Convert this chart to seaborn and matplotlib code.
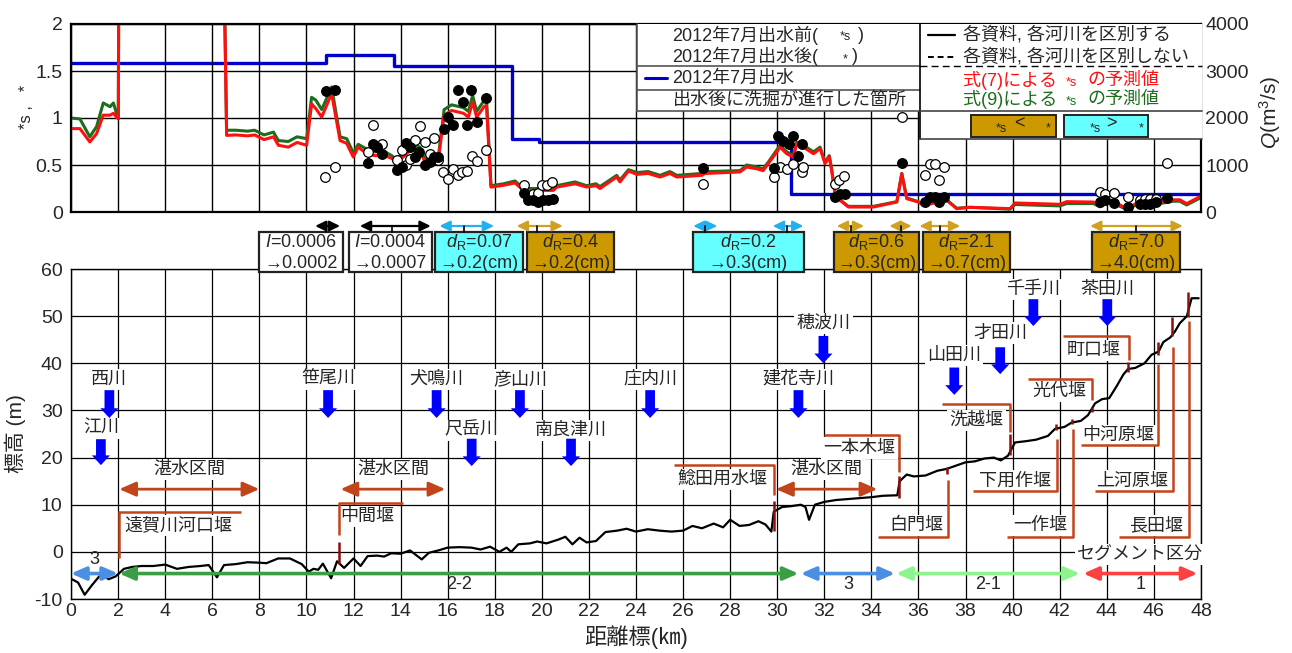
import matplotlib
matplotlib.use("Agg")
import matplotlib.pyplot as plt
import matplotlib.transforms as mtransforms
from matplotlib.patches import Rectangle, FancyArrowPatch
from matplotlib.lines import Line2D
import seaborn as sns

sns.set_style("white")
plt.rcParams["font.family"] = ["Liberation Sans", "Noto Sans CJK JP", "DejaVu Sans"]
plt.rcParams["mathtext.fontset"] = "custom"
plt.rcParams["mathtext.rm"] = "Liberation Sans"
plt.rcParams["mathtext.it"] = "Liberation Sans:italic"
plt.rcParams["axes.unicode_minus"] = False

# ---------------------------------------------------------------- data
dist_ticks = list(range(0, 49, 2))
tau_ticks = [0, 0.5, 1, 1.5, 2]
tau_ticklabels = ["0", "0.5", "1", "1.5", "2"]
q_ticks = [0, 1000, 2000, 3000, 4000]
elev_ticks = [-10, 0, 10, 20, 30, 40, 50, 60]

# longitudinal bed profile (distance km, elevation m)
bed_km = [0, 0.3, 0.58, 0.9, 1.2, 1.35, 1.6, 1.9, 2.25, 2.6, 3.0, 3.5, 4.0, 4.5, 5.0,
          5.5, 5.85, 6.2, 6.5, 7.0, 7.5, 8.0, 8.3, 8.8, 9.3, 9.8, 10.1, 10.3, 10.5, 10.7,
          11.05, 11.3, 11.6, 12.0, 12.3, 12.6, 13.0, 13.3, 13.6, 14.0, 14.4, 14.9, 15.2,
          15.6, 16.0, 16.5, 17.0, 17.4, 17.8, 18.2, 18.5, 18.7, 19.0, 19.5, 19.8, 20.2,
          20.7, 21.0, 21.3, 21.6, 21.9, 22.3, 22.7, 23.2, 23.6, 24.0, 24.5, 25.0, 25.5,
          26.0, 26.4, 26.8, 27.3, 27.7, 28.0, 28.4, 28.8, 29.2, 29.5, 29.75, 29.85, 30.2,
          30.6, 31.0, 31.2, 31.35, 31.6, 32.0, 32.5, 33.0, 33.5, 34.0, 34.5, 35.1, 35.2,
          35.5, 35.8, 36.3, 36.8, 37.2, 37.6, 38.0, 38.4, 38.8, 39.2, 39.5, 39.8, 40.1,
          40.6, 41.0, 41.5, 41.8, 42.2, 42.5, 42.9, 43.2, 43.5, 43.8, 44.1, 44.4, 44.7,
          44.9, 45.2, 45.6, 45.9, 46.2, 46.4, 46.7, 46.9, 47.1, 47.4, 47.6, 47.9]
bed_elev = [-5.7, -6.5, -9.1, -7.0, -5.2, -5.0, -5.8, -5.2, -3.6, -3.2, -3.0, -3.0, -2.7,
            -3.6, -3.2, -3.0, -2.8, -5.4, -2.8, -2.6, -2.2, -2.3, -2.4, -1.4, -1.4, -2.6,
            -4.2, -3.6, -3.8, -2.5, -5.6, -2.0, -3.4, -1.4, -3.0, -0.9, -0.8, -1.0, -0.3,
            -0.4, 0.3, -1.6, -0.2, 0.3, 0.9, 1.0, 0.9, 0.5, 1.1, 0.0, 0.9, 0.0, 1.6, 1.8,
            2.2, 1.8, 2.6, 3.2, 1.6, 3.0, 2.0, 2.3, 4.2, 4.5, 4.9, 4.3, 4.8, 4.5, 4.3, 4.5,
            5.5, 5.0, 6.0, 5.2, 6.8, 5.5, 5.7, 6.5, 5.8, 4.3, 8.5, 9.5, 9.7, 10.0, 9.5,
            6.8, 10.0, 10.6, 11.0, 11.2, 11.4, 11.6, 11.9, 12.0, 15.0, 16.4, 16.0, 16.2,
            17.2, 17.6, 18.3, 19.0, 19.2, 19.8, 20.0, 19.4, 20.4, 23.2, 23.5, 23.8, 24.6,
            26.1, 26.5, 27.4, 27.8, 29.0, 31.5, 32.4, 32.6, 35.0, 37.6, 38.8, 39.0, 40.0,
            41.8, 42.5, 44.5, 45.5, 46.8, 48.5, 50.0, 53.8, 53.8]

# predicted dimensionless shear stress along the river
pred_km = [0, 0.38, 0.8, 1.09, 1.37, 1.66, 1.8, 2.01, 2.03, 6.5, 6.61, 7.0, 7.5, 7.8,
           8.2, 8.6, 8.81, 9.23, 9.6, 10.01, 10.22, 10.4, 10.65, 11.07, 11.43, 11.71,
           11.99, 12.2, 12.56, 12.91, 13.34, 13.62, 13.83, 14.11, 14.54, 14.82, 15.04,
           15.4, 15.6, 15.85, 16.17, 16.67, 16.88, 17.06, 17.23, 17.56, 17.65, 17.84,
           18.37, 18.86, 19.22, 20.49, 20.63, 21.41, 21.9, 22.3, 22.47, 23.18, 23.32,
           23.68, 24.04, 24.52, 25.02, 25.44, 25.73, 26.79, 26.93, 28.42, 28.7, 29.12,
           29.4, 29.62, 29.98, 30.12, 30.4, 30.68, 30.83, 31.11, 31.54, 31.82, 32.03,
           32.21, 32.31, 32.45, 32.67, 33.02, 34.08, 35.08, 35.29, 35.5, 35.99, 36.2,
           37.2, 37.62, 38.19, 39.89, 40.1, 42.0, 42.3, 43.43, 43.7, 44.07, 44.4, 44.85,
           45.28, 45.85, 46.26, 46.83, 47.1, 47.39, 47.93]
pred_eq7 = [0.887, 0.887, 0.745, 0.834, 1.03, 1.03, 1.05, 0.99, 2.6, 2.6, 0.815, 0.82,
            0.81, 0.82, 0.77, 0.80, 0.71, 0.69, 0.74, 0.71, 1.15, 1.10, 1.01, 1.26, 0.76,
            0.73, 0.585, 0.69, 0.62, 0.60, 0.60, 0.57, 0.53, 0.585, 0.69, 0.655, 0.53,
            0.585, 0.55, 1.03, 1.08, 1.05, 1.01, 1.17, 1.01, 1.125, 1.13, 0.265, 0.284,
            0.31, 0.23, 0.23, 0.265, 0.30, 0.266, 0.28, 0.25, 0.372, 0.32, 0.436, 0.40,
            0.41, 0.372, 0.41, 0.372, 0.39, 0.41, 0.426, 0.479, 0.46, 0.44, 0.515, 0.638,
            0.69, 0.62, 0.585, 0.727, 0.69, 0.62, 0.675, 0.515, 0.585, 0.443, 0.196, 0.124,
            0.053, 0.053, 0.106, 0.408, 0.142, 0.106, 0.07, 0.124, 0.036, 0.05, 0.036,
            0.096, 0.082, 0.11, 0.106, 0.07, 0.124, 0.096, 0.036, 0.096, 0.096, 0.106,
            0.13, 0.13, 0.089, 0.16]
pred_eq9 = [1.00, 0.99, 0.80, 0.91, 1.16, 1.12, 1.16, 0.99, 2.6, 2.6, 0.87, 0.87, 0.86,
            0.87, 0.82, 0.85, 0.76, 0.75, 0.80, 0.78, 1.22, 1.19, 1.09, 1.33, 0.80, 0.78,
            0.63, 0.72, 0.67, 0.64, 0.64, 0.60, 0.56, 0.62, 0.72, 0.69, 0.56, 0.62, 0.58,
            1.09, 1.14, 1.11, 1.07, 1.24, 1.07, 1.19, 1.20, 0.28, 0.30, 0.33, 0.25, 0.25,
            0.28, 0.32, 0.28, 0.30, 0.27, 0.39, 0.34, 0.45, 0.42, 0.43, 0.39, 0.43, 0.39,
            0.41, 0.43, 0.44, 0.50, 0.48, 0.46, 0.53, 0.66, 0.71, 0.64, 0.60, 0.74, 0.71,
            0.64, 0.69, 0.53, 0.60, 0.46, 0.21, 0.13, 0.06, 0.06, 0.11, 0.41, 0.15, 0.11,
            0.08, 0.13, 0.04, 0.05, 0.03, 0.08, 0.065, 0.09, 0.09, 0.055, 0.105, 0.08,
            0.025, 0.08, 0.08, 0.09, 0.115, 0.115, 0.075, 0.145]

# observed values, before the July 2012 flood
before_km = [10.81, 11.21, 12.63, 12.84, 13.2, 13.83, 14.05, 14.21, 14.4, 14.61, 14.83,
             15.04, 15.25, 15.42, 15.6, 15.81, 16.03, 16.24, 16.42, 16.63, 16.8, 17.02,
             17.23, 17.63, 19.24, 19.64, 19.85, 20.02, 20.2, 20.42, 26.83, 29.86, 30.12,
             30.4, 30.68, 31.04, 31.11, 32.45, 32.64, 32.84, 35.29, 36.28, 36.49, 36.7,
             36.88, 37.08, 43.71, 43.93, 44.31, 44.89, 45.42, 45.63, 45.85, 46.1, 46.55]
before_tau = [0.375, 0.479, 0.638, 0.922, 0.727, 0.55, 0.656, 0.5, 0.56, 0.763, 0.911,
              0.745, 0.62, 0.79, 0.55, 0.426, 0.355, 0.46, 0.39, 0.426, 0.44, 0.60, 0.546,
              0.66, 0.284, 0.195, 0.2, 0.284, 0.284, 0.32, 0.30, 0.372, 0.479, 0.46, 0.515,
              0.426, 0.479, 0.30, 0.337, 0.38, 1.01, 0.39, 0.515, 0.515, 0.337, 0.479,
              0.213, 0.195, 0.2, 0.16, 0.13, 0.14, 0.14, 0.14, 0.521]
# observed values, after the July 2012 flood
after_km = [10.83, 11.21, 12.63, 12.84, 13.0, 13.2, 13.83, 14.05, 14.23, 14.4, 14.61,
            14.8, 15.04, 15.23, 15.42, 15.6, 15.85, 16.03, 16.24, 16.43, 16.64, 16.84,
            17.0, 17.23, 17.63, 19.24, 19.43, 19.64, 19.85, 20.05, 20.26, 20.47, 26.83,
            29.86, 30.05, 30.26, 30.48, 30.66, 30.87, 31.07, 32.45, 32.67, 32.88, 35.29,
            36.28, 36.49, 36.7, 36.88, 37.08, 43.71, 43.93, 44.31, 44.89, 45.42, 45.63,
            45.85, 46.1, 46.55]
after_tau = [1.287, 1.295, 0.525, 0.72, 0.69, 0.62, 0.45, 0.48, 0.734, 0.69, 0.585, 0.638,
             0.497, 0.53, 0.59, 0.585, 0.887, 1.01, 0.922, 1.30, 1.17, 0.93, 1.30, 0.957,
             1.216, 0.2, 0.124, 0.124, 0.11, 0.124, 0.124, 0.135, 0.472, 0.472, 0.805,
             0.76, 0.727, 0.805, 0.60, 0.72, 0.16, 0.195, 0.19, 0.521, 0.11, 0.16, 0.16,
             0.11, 0.16, 0.106, 0.124, 0.096, 0.053, 0.082, 0.082, 0.082, 0.106, 0.152]

# peak discharge of the July 2012 flood (step changes along the river)
flow_km = [0, 10.83, 13.73, 18.75, 19.9, 30.57, 47.9]
flow_q = [3160, 3350, 3110, 1547, 1497, 391, 391]

# tributary confluences
trib_names = ["西川", "江川", "笹尾川", "犬鳴川", "尺岳川", "彦山川", "南良津川", "庄内川",
              "建花寺川", "穂波川", "山田川", "才田川", "千手川", "茶田川"]
trib_km = [1.63, 1.27, 10.92, 15.53, 17.02, 19.07, 21.24, 24.6, 30.9, 31.96, 37.52,
           39.47, 40.88, 44.02]

# weirs: location, and height of the structure on the bed
weir_names = ["遠賀川河口堰", "中間堰", "鯰田用水堰", "一本木堰", "白門堰", "洗越堰", "下用作堰",
              "一作堰", "光代堰", "町口堰", "中河原堰", "上河原堰", "長田堰"]
weir_km = [2.05, 11.38, 29.85, 35.17, 37.2, 39.9, 41.85, 42.5, 43.39, 44.92, 46.18,
           46.75, 47.45]
weir_base = [None, -2.5, 4.5, 11.5, 16.6, 20.5, 25.8, 27.1, 29.7, 38.2, 41.8, 45.7, 49.9]
weir_crest = [None, 2.0, 10.8, 16.0, 18.0, 25.1, 27.2, 28.1, 30.8, 40.3, 44.6, 49.9, 55.2]

# backwater (湛水) reaches
pond_from = [2.05, 11.45, 29.95]
pond_to = [8.0, 15.9, 34.25]

# river segment classification
seg_names = ["3", "2-2", "3", "2-1", "1"]
seg_from = [0.0, 2.05, 31.0, 35.05, 43.0]
seg_to = [2.0, 30.9, 35.0, 42.85, 47.85]

# parameter changes after the flood (slope I, representative grain size dR)
change_before = [r"$\it{I}$=0.0006", r"$\it{I}$=0.0004", r"$\it{d}_{\rm R}$=0.07",
                 r"$\it{d}_{\rm R}$=0.4", r"$\it{d}_{\rm R}$=0.2", r"$\it{d}_{\rm R}$=0.6",
                 r"$\it{d}_{\rm R}$=2.1", r"$\it{d}_{\rm R}$=7.0"]
change_after = ["→0.0002", "→0.0007", "→0.2(cm)", "→0.2(cm)", "→0.3(cm)", "→0.3(cm)",
                "→0.7(cm)", "→4.0(cm)"]
change_kind = ["slope", "slope", "more", "less", "more", "less", "less", "less"]
change_from = [10.37, 12.27, 15.65, 18.93, 26.43, 32.53, 36.04, 43.29]
change_to = [11.43, 15.28, 17.97, 20.89, 27.45, 33.69, 37.77, 47.23]
extra_from = [None, None, None, None, 29.81, 34.76, None, None]
extra_to = [None, None, None, None, 31.11, 35.71, None, None]

# ---------------------------------------------------------------- styles
RED = "#FF1010"
GREEN = "#1C6E1C"
BLUE = "#0000CD"
WEIR = "#C1441A"
WEIR_DARK = "#8B0F0F"
BROWN_BOX = "#CC9900"
CYAN_BOX = "#66FFFF"
BROWN_ARR = "#D0A020"
CYAN_ARR = "#22B0EE"
SEG_COLORS = ["#4A90E2", "#3A9E45", "#4A90E2", "#8CF58C", "#FF4040"]
KIND_FACE = {"slope": "white", "more": CYAN_BOX, "less": BROWN_BOX}
KIND_ARROW = {"slope": "black", "more": CYAN_ARR, "less": BROWN_ARR}

W, H = 1292, 653


def fx(px):
    return px / W


def fy(py):
    return 1 - py / H


fig = plt.figure(figsize=(W / 100, H / 100), dpi=100)
fig.patch.set_facecolor("white")

ax_top = fig.add_axes([fx(71), fy(212), fx(1201) - fx(71), fy(24) - fy(212)])
ax_q = ax_top.twinx()
ax_bot = fig.add_axes([fx(71), fy(599), fx(1201) - fx(71), fy(269) - fy(599)])

ax_top.set_zorder(2)
ax_top.patch.set_visible(False)
ax_q.set_zorder(1)

# ---------------------------------------------------------------- upper panel
sns.lineplot(x=flow_km, y=flow_q, ax=ax_q, color=BLUE, lw=2.4, drawstyle="steps-post",
             estimator=None, sort=False, legend=False)
sns.lineplot(x=pred_km, y=pred_eq9, ax=ax_top, color=GREEN, lw=2.2, estimator=None,
             sort=False, legend=False)
sns.lineplot(x=pred_km, y=pred_eq7, ax=ax_top, color=RED, lw=2.2, estimator=None,
             sort=False, legend=False)
sns.scatterplot(x=before_km, y=before_tau, ax=ax_top, s=48, facecolor="white",
                edgecolor="black", linewidth=0.9, zorder=4, legend=False)
sns.scatterplot(x=after_km, y=after_tau, ax=ax_top, s=48, color="black",
                edgecolor="black", linewidth=0.9, zorder=5, legend=False)

ax_top.set_xlim(0, 48)
ax_top.set_ylim(0, 2)
ax_top.set_xticks(dist_ticks)
ax_top.set_yticks(tau_ticks)
ax_top.set_yticklabels(tau_ticklabels)
ax_top.tick_params(axis="both", length=0, labelsize=14, pad=6, labelbottom=False)
ax_top.grid(True, color="black", lw=1.0)
ax_top.set_xlabel("")
ax_top.set_ylabel("")
for sp in ax_top.spines.values():
    sp.set_color("black")
    sp.set_linewidth(1.6)

ax_q.set_ylim(0, 4000)
ax_q.set_yticks(q_ticks)
ax_q.tick_params(axis="y", length=0, labelsize=14, pad=3)
ax_q.grid(False)
ax_q.set_ylabel("")
for sp in ax_q.spines.values():
    sp.set_visible(False)

fig.text(fx(27), fy(107), "*s ,   *", rotation=90, ha="center", va="center", fontsize=12)
fig.text(fx(1270), fy(112), r"$\it{Q}$(m$^3$/s)", rotation=90, ha="center", va="center",
         fontsize=15)


def fig_line(xs, ys, **kw):
    fig.add_artist(Line2D([fx(v) for v in xs], [fy(v) for v in ys],
                          transform=fig.transFigure, zorder=6, **kw))


def fig_rect(x0, y0, x1, y1, **kw):
    fig.add_artist(Rectangle((fx(x0), fy(y1)), fx(x1) - fx(x0), fy(y0) - fy(y1),
                             transform=fig.transFigure, **kw))


def fig_text(x, y, s, **kw):
    kw.setdefault("va", "center")
    kw.setdefault("fontsize", 13)
    fig.text(fx(x), fy(y), s, zorder=7, **kw)


# legend block (left part)
fig_rect(637, 24, 920, 111, facecolor="white", edgecolor="none", zorder=5)
fig_line([637, 637], [24, 111], color="#555555", lw=1.2)
fig_line([637, 920], [66.3, 66.3], color="#555555", lw=1.2)
fig_line([637, 920], [90, 90], color="#555555", lw=1.2)
fig_line([637, 920], [111, 111], color="#555555", lw=1.2)
fig_text(672, 35, "2012年7月出水前(")
fig_text(845, 37, "*s", fontsize=9, ha="center")
fig_text(858, 35, ")")
fig_text(672, 56.7, "2012年7月出水後(")
fig_text(845, 59, "*", fontsize=9, ha="center")
fig_text(852, 56.7, ")")
fig_line([645, 667], [78, 78], color=BLUE, lw=2.2)
fig_text(672, 78, "2012年7月出水")
fig_text(673, 100, "出水後に洗掘が進行した箇所")

# legend block (right part)
fig_rect(920, 24, 1202, 139, facecolor="white", edgecolor="none", zorder=5)
fig_line([920, 920], [24, 139], color="black", lw=1.2)
fig_line([920, 1202], [66.3, 66.3], color="black", lw=1.0, ls=(0, (5, 3)))
fig_line([920, 1202], [111, 111], color="#444444", lw=1.2)
fig_line([920, 1202], [139, 139], color="#444444", lw=1.2)
fig_line([928, 955], [35, 35], color="black", lw=1.6)
fig_text(963, 35, "各資料, 各河川を区別する")
fig_line([928, 955], [56.7, 56.7], color="black", lw=1.4, ls=(0, (3, 2)))
fig_text(963, 56.7, "各資料, 各河川を区別しない")
fig_text(963, 80, "式(7)による", color=RED)
fig_text(1071, 83, "*s", fontsize=9, ha="center", color=RED)
fig_text(1087, 80, "の予測値", color=RED)
fig_text(963, 99.3, "式(9)による", color=GREEN)
fig_text(1071, 102, "*s", fontsize=9, ha="center", color=GREEN)
fig_text(1087, 99.3, "の予測値", color=GREEN)
fig_rect(971, 115, 1056, 137, facecolor=BROWN_BOX, edgecolor="#222222", lw=1.4, zorder=6)
fig_text(1001, 129, "*s", fontsize=9, ha="center")
fig_text(1019, 124, "<", ha="center")
fig_text(1048, 128, "*", fontsize=9, ha="center")
fig_rect(1064, 115, 1148, 137, facecolor=CYAN_BOX, edgecolor="#222222", lw=1.4, zorder=6)
fig_text(1095, 129, "*s", fontsize=9, ha="center")
fig_text(1111, 124, ">", ha="center")
fig_text(1141, 128, "*", fontsize=9, ha="center")

# ---------------------------------------------------------------- band between panels
band = mtransforms.blended_transform_factory(ax_bot.transData, fig.transFigure)
ARROW_Y, BOX_TOP, BOX_BOT = fy(226), fy(232), fy(272)
box_left = [8.0, 11.81, 15.46, 19.38, 26.41, 32.39, 36.18, 43.36]
box_right = [11.54, 15.32, 19.19, 23.07, 31.14, 36.04, 39.89, 47.1]
tick_at = [10.83, 13.62, 16.7, 19.78, 26.95, 33.12, 36.9, 45.23]
extra_tick = [None, None, None, None, 30.4, 35.25, None, None]


def band_arrow(x0, x1, color, tick):
    fig.add_artist(FancyArrowPatch(
        (x0, ARROW_Y), (x1, ARROW_Y), transform=band,
        arrowstyle="<|-|>,head_length=0.45,head_width=0.22", mutation_scale=14,
        color=color, lw=1.6, shrinkA=0, shrinkB=0, zorder=6))
    fig.add_artist(Line2D([tick, tick], [ARROW_Y, BOX_TOP], transform=band,
                          color="black", lw=1.2, zorder=6))


for i, kind in enumerate(change_kind):
    fig.add_artist(Rectangle((box_left[i], BOX_BOT), box_right[i] - box_left[i],
                             BOX_TOP - BOX_BOT, transform=band, facecolor=KIND_FACE[kind],
                             edgecolor="#222222", lw=1.6, zorder=6))
    xc = (box_left[i] + box_right[i]) / 2
    fig.text(xc, fy(242), change_before[i], transform=band, ha="center", va="center",
             fontsize=13, zorder=7)
    fig.text(xc, fy(263.5), change_after[i], transform=band, ha="center", va="center",
             fontsize=13, zorder=7)
    band_arrow(change_from[i], change_to[i], KIND_ARROW[kind], tick_at[i])
    if extra_from[i] is not None:
        band_arrow(extra_from[i], extra_to[i], KIND_ARROW[kind], extra_tick[i])

# ---------------------------------------------------------------- lower panel
sns.lineplot(x=bed_km, y=bed_elev, ax=ax_bot, color="black", lw=1.6, estimator=None,
             sort=False, legend=False, zorder=4)
ax_bot.set_xlim(0, 48)
ax_bot.set_ylim(-10, 60)
ax_bot.set_xticks(dist_ticks)
ax_bot.set_xticklabels([str(v) for v in dist_ticks])
ax_bot.set_yticks(elev_ticks)
ax_bot.tick_params(axis="both", length=0, labelsize=14)
ax_bot.tick_params(axis="y", pad=6)
ax_bot.tick_params(axis="x", pad=3)
ax_bot.grid(True, color="black", lw=0.9)
for sp in ax_bot.spines.values():
    sp.set_color("black")
    sp.set_linewidth(1.0)
ax_bot.set_xlabel("距離標(㎞)", fontsize=16, labelpad=4)
ax_bot.set_ylabel("標高 (m)", fontsize=15, labelpad=6)

label_bg = dict(facecolor="white", edgecolor="none", pad=1.5)

# tributary arrows
trib_label_y = [36.6, 26.2, 36.6, 36.6, 25.8, 36.6, 25.8, 36.6, 36.6, 48.5, 41.6, 46.4,
                55.7, 55.7]
trib_arrow_top = [34.3, 23.9, 34.3, 34.3, 24.0, 34.3, 24.0, 34.3, 34.3, 45.8, 39.1,
                  43.4, 53.6, 53.6]
trib_arrow_tip = [28.4, 18.4, 28.4, 28.4, 18.2, 28.4, 18.2, 28.4, 28.4, 40.0, 33.3,
                  37.7, 47.9, 47.9]
for name, km, ly, y0, y1 in zip(trib_names, trib_km, trib_label_y, trib_arrow_top,
                                trib_arrow_tip):
    ax_bot.text(km, ly, name, ha="center", va="center", fontsize=13, bbox=label_bg,
                zorder=3)
    ax_bot.annotate("", xy=(km, y1), xytext=(km, y0),
                    arrowprops=dict(arrowstyle="simple,head_length=7,head_width=13,tail_width=7",
                                    mutation_scale=1, color="#0000FF", shrinkA=0,
                                    shrinkB=0, lw=0), zorder=5)

# weir leader lines: (vertical start y, horizontal far end x, vertical end y)
weir_lead_y = [8.4, 10.3, 18.4, 24.7, 3.25, 31.3, 12.9, 3.25, 36.7, 45.7, 22.6, 13.0, 3.25]
weir_lead_far = [7.2, 14.1, 25.6, 32.0, 34.3, 37.0, 38.33, 39.75, 40.67, 42.13, 42.9,
                 43.5, 44.5]
weir_lead_end = [-1.2, 3.5, 12.0, 17.0, 15.2, 25.5, 24.0, 26.0, 32.2, 40.7, 39.85, 43.5,
                 48.9]
weir_label_x = [4.55, 12.6, 27.65, 33.5, 35.9, 38.47, 40.1, 41.16, 42.0, 43.43, 44.49,
                45.06, 46.1]
weir_label_y = [5.6, 7.5, 15.4, 22.0, 5.6, 27.9, 15.0, 5.6, 34.0, 42.7, 24.7, 15.0, 5.6]
weir_lead_x = [2.05, 11.38, 29.85, 35.17, 37.24, 39.9, 41.87, 42.55, 43.39, 44.93, 46.19,
               46.79, 47.5]
for i, name in enumerate(weir_names):
    xv = weir_lead_x[i]
    ax_bot.plot([weir_lead_far[i], xv, xv], [weir_lead_y[i], weir_lead_y[i],
                                             weir_lead_end[i]],
                color=WEIR, lw=1.8, zorder=6, solid_capstyle="butt")
    ax_bot.text(weir_label_x[i], weir_label_y[i], name, ha="center", va="center",
                fontsize=13, bbox=label_bg, zorder=3)
    if weir_base[i] is not None:
        ax_bot.plot([weir_km[i], weir_km[i]], [weir_base[i], weir_crest[i]],
                    color=WEIR_DARK, lw=1.8, zorder=6, solid_capstyle="butt")

# backwater reaches
for x0, x1 in zip(pond_from, pond_to):
    ax_bot.annotate("", xy=(x1, 13.3), xytext=(x0, 13.3),
                    arrowprops=dict(arrowstyle="<|-|>,head_length=0.5,head_width=0.22",
                                    mutation_scale=20, color=WEIR, lw=2.0, shrinkA=0,
                                    shrinkB=0), zorder=6)
    ax_bot.text((x0 + x1) / 2, 17.4, "湛水区間", ha="center", va="center", fontsize=13,
                bbox=label_bg, zorder=3)

# segment classification
for i, name in enumerate(seg_names):
    ax_bot.annotate("", xy=(seg_to[i], -4.6), xytext=(seg_from[i], -4.6),
                    arrowprops=dict(arrowstyle="<|-|>,head_length=0.5,head_width=0.22",
                                    mutation_scale=18, color=SEG_COLORS[i], lw=2.6,
                                    shrinkA=0, shrinkB=0), zorder=6)
    ly = -1.6 if i == 0 else -7.0
    ax_bot.text((seg_from[i] + seg_to[i]) / 2, ly, name, ha="center", va="center",
                fontsize=13, zorder=3)
ax_bot.text(45.4, -0.6, "セグメント区分", ha="center", va="center", fontsize=13,
            bbox=label_bg, zorder=3)

fig.savefig("out.png", dpi=100, facecolor="white")
